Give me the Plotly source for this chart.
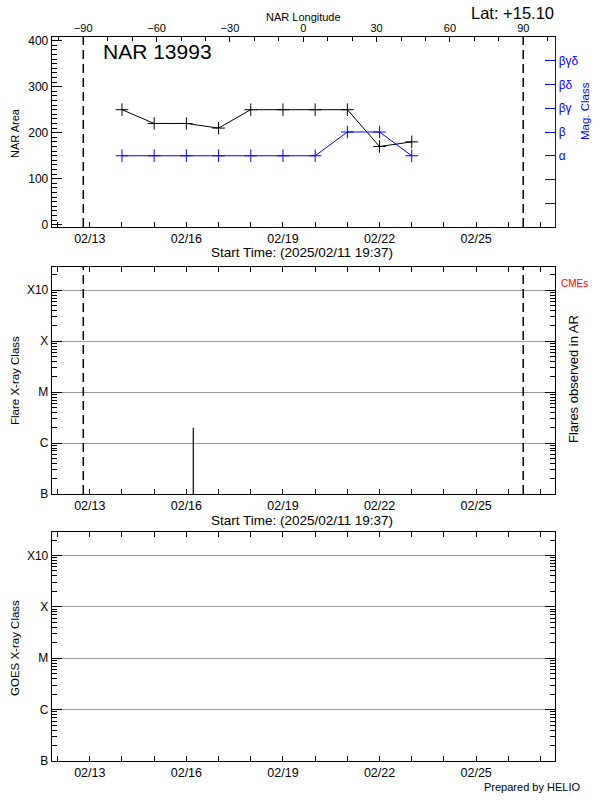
import plotly.graph_objects as go

# ---------------- data ----------------
start_time = "2025-02-11 19:37"
end_time = "2025-02-27 11:00"
noaa_ar = "13993"
latitude = "+15.10"
date_tick0 = "2025-02-13"

obs_dates = ["2025-02-14", "2025-02-15", "2025-02-16", "2025-02-17", "2025-02-18",
             "2025-02-19", "2025-02-20", "2025-02-21", "2025-02-22", "2025-02-23"]
nar_area = [250, 220, 220, 210, 250, 250, 250, 250, 170, 180]
mag_class = ["α", "α", "α", "α", "α", "α", "α", "β", "β", "α"]
mag_class_order = ["α", "β", "βγ", "βδ", "βγδ"]

limb_times = ["2025-02-12 19:10", "2025-02-26 11:05"]
lon_range = [-102.9, 103.1]
lon_ticks = [-90, -60, -30, 0, 30, 60, 90]

flare_times = ["2025-02-16 05:10"]
flare_peaks = [2.0e-6]

goes_classes = ["B", "C", "M", "X", "X10"]
goes_levels = [1e-7, 1e-6, 1e-5, 1e-4, 1e-3]

# ---------------- layout helpers ----------------
W, H = 600, 800
FONT = "Liberation Sans"


def px_x(x):
    return x / W


def px_y(y):
    return 1 - y / H


xdom = [px_x(51.7), px_x(555.3)]
ydom1 = [px_y(227), px_y(37)]
ydom2 = [px_y(494), px_y(267)]
ydom3 = [px_y(761), px_y(532)]

DAY = 86400000


def date_axis(anchor, mirror):
    return dict(type="date", range=[start_time, end_time], domain=xdom, anchor=anchor,
                tick0=date_tick0, dtick=3 * DAY, tickformat="%m/%d",
                ticks="inside", ticklen=5, tickcolor="black", tickwidth=1,
                showline=True, linecolor="black", linewidth=1, mirror=mirror,
                showgrid=False, zeroline=False, automargin=False,
                tickfont=dict(family=FONT, size=12.5, color="black"),
                minor=dict(tick0=date_tick0, dtick=DAY, ticks="inside", ticklen=5,
                           tickcolor="black", showgrid=False))


minor_log = [k * 10 ** e for e in range(-7, -2) for k in range(2, 10)]


def log_axis(anchor, dom):
    return dict(type="log", range=[-7, -2.543], domain=dom, anchor=anchor,
                tickmode="array", tickvals=goes_levels, ticktext=goes_classes,
                ticks="inside", ticklen=10, tickcolor="black",
                showline=True, linecolor="black", linewidth=1, mirror="ticks",
                showgrid=True, gridcolor="#999999", gridwidth=1, zeroline=False,
                automargin=False,
                tickfont=dict(family=FONT, size=12, color="black"),
                minor=dict(tickmode="array", tickvals=minor_log, ticks="inside",
                           ticklen=5, tickcolor="black", showgrid=False))


fig = go.Figure()

# NAR area (black)
fig.add_trace(go.Scatter(x=obs_dates, y=nar_area, xaxis="x", yaxis="y",
                         mode="lines+markers",
                         line=dict(color="black", width=1),
                         marker=dict(symbol="cross-thin", size=9,
                                     line=dict(color="black", width=1))))

# Mag class (blue)
mag_pos = [mag_class_order.index(c) + 3 for c in mag_class]
fig.add_trace(go.Scatter(x=obs_dates, y=mag_pos, xaxis="x", yaxis="y2",
                         mode="lines+markers",
                         line=dict(color="#0000ff", width=1),
                         marker=dict(symbol="cross-thin", size=9,
                                     line=dict(color="#0000ff", width=1))))

# longitude axis carrier (invisible)
fig.add_trace(go.Scatter(x=lon_range, y=[None, None], xaxis="x2", yaxis="y",
                         mode="lines", hoverinfo="skip", showlegend=False))

# flares
fx, fy = [], []
for t, p in zip(flare_times, flare_peaks):
    fx += [t, t, None]
    fy += [goes_levels[0], p, None]
fig.add_trace(go.Scatter(x=fx, y=fy, xaxis="x3", yaxis="y3", mode="lines",
                         line=dict(color="black", width=1.2)))

# GOES panel (empty)
fig.add_trace(go.Scatter(x=[start_time], y=[None], xaxis="x4", yaxis="y4",
                         mode="lines"))

shapes = []
for t in limb_times:
    for xr, yr in [("x", "y domain"), ("x3", "y3 domain")]:
        shapes.append(dict(type="line", xref=xr, yref=yr, x0=t, x1=t, y0=0, y1=1,
                           line=dict(color="black", width=1.5, dash="9px,5px")))


def ann(text, x, y, size, color="black", angle=0, xanchor="center", yanchor="middle"):
    return dict(text=text, x=px_x(x), y=px_y(y), xref="paper", yref="paper",
                showarrow=False, textangle=angle, xanchor=xanchor, yanchor=yanchor,
                font=dict(family=FONT, size=size, color=color))


start_label = "Start Time: (" + start_time.replace("-", "/") + ")"
annotations = [
    ann("NAR " + noaa_ar, 101, 52, 21, xanchor="left"),
    ann("Lat: " + latitude, 556, 12.5, 16.5, xanchor="right"),
    ann("NAR Longitude", 303, 17.5, 11),
    ann("NAR Area", 15, 133, 11, angle=-90),
    ann("Mag. Class", 585, 111, 11.5, color="#0000ff", angle=-90),
    ann(start_label, 302, 252.5, 13.5),
    ann("Flare X-ray Class", 15, 381, 11.5, angle=-90),
    ann("Flares observed in AR", 573, 379, 13, angle=-90),
    ann("CMEs", 574, 283, 10, color="#ff0000"),
    ann(start_label, 302, 520.5, 13.5),
    ann("GOES X-ray Class", 15, 648, 11.5, angle=-90),
    ann("Prepared by HELIO", 532, 787, 11),
]

fig.update_layout(
    width=W, height=H, autosize=False,
    margin=dict(l=0, r=0, t=0, b=0, pad=0, autoexpand=False),
    paper_bgcolor="white", plot_bgcolor="white",
    showlegend=False,
    font=dict(family=FONT, color="black"),
    xaxis=date_axis("y", False),
    xaxis2=dict(overlaying="x", side="top", anchor="y", range=lon_range,
                tickmode="array", tickvals=lon_ticks,
                ticks="inside", ticklen=5, tickcolor="black",
                showline=True, linecolor="black", linewidth=1,
                showgrid=False, zeroline=False, automargin=False,
                tickfont=dict(family=FONT, size=11, color="black"),
                minor=dict(tickmode="linear", tick0=0, dtick=10, ticks="inside",
                           ticklen=4, tickcolor="black", showgrid=False)),
    yaxis=dict(domain=ydom1, anchor="x", range=[-5, 408], tick0=0, dtick=100,
               ticks="inside", ticklen=10, tickcolor="black",
               showline=True, linecolor="black", linewidth=1,
               showgrid=False, zeroline=False, automargin=False,
               tickfont=dict(family=FONT, size=12, color="black"),
               minor=dict(tick0=0, dtick=10, ticks="inside", ticklen=5,
                          tickcolor="black", showgrid=False)),
    yaxis2=dict(overlaying="y", side="right", anchor="x", range=[0, 8],
                tickmode="array", tickvals=list(range(1, 8)),
                ticktext=["", ""] + mag_class_order,
                ticks="inside", ticklen=10, tickcolor="#0000ff",
                showline=True, linecolor="#0000ff", linewidth=1,
                showgrid=False, zeroline=False, automargin=False,
                tickfont=dict(family=FONT, size=12, color="#0000ff")),
    xaxis3=date_axis("y3", "ticks"),
    yaxis3=log_axis("x3", ydom2),
    xaxis4=date_axis("y4", "ticks"),
    yaxis4=log_axis("x4", ydom3),
    shapes=shapes,
    annotations=annotations,
)

fig.write_html("out.html", config={"displayModeBar": False},
               post_script="document.body.style.margin='0px';")
